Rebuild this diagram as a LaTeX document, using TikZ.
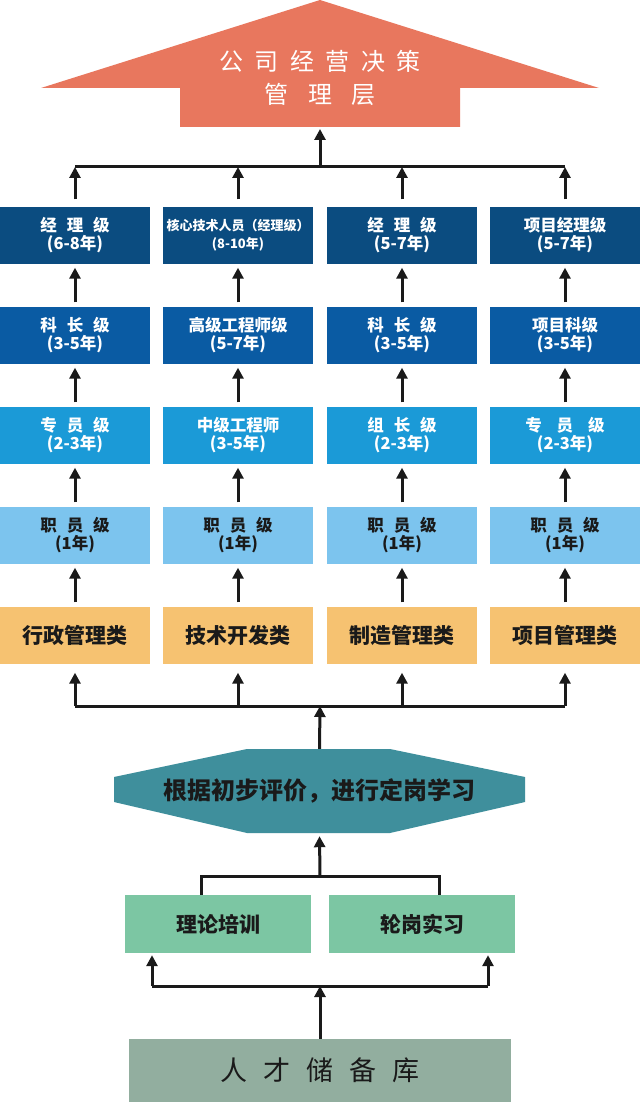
\documentclass[tikz,border=0pt]{standalone}
\usepackage{fontspec}
\setmainfont{Noto Sans CJK SC}
\usetikzlibrary{arrows.meta}
\definecolor{topc}{HTML}{E8775E}
\definecolor{rowA}{HTML}{0B4C80}
\definecolor{rowB}{HTML}{0A5BA3}
\definecolor{rowC}{HTML}{1B9AD7}
\definecolor{rowD}{HTML}{7CC4EE}
\definecolor{rowE}{HTML}{F6C271}
\definecolor{hexc}{HTML}{3F8F9C}
\definecolor{grn}{HTML}{7CC6A3}
\definecolor{gry}{HTML}{92AE9F}
\definecolor{ink}{HTML}{1A1A1A}
\newcommand\gp[1][0.6em]{\hspace{#1}}
\begin{document}
\begin{tikzpicture}[x=1pt,y=-1pt,
  box/.style={minimum width=150pt, minimum height=57pt, inner sep=0pt, align=center,
    font=\fontsize{16.5}{18}\selectfont\bfseries, text=white},
  arr/.style={line width=3pt, draw=ink, -{Triangle[length=11pt,width=11pt]}},
  ln/.style={line width=3pt, draw=ink}]
\useasboundingbox (0,0) rectangle (640,1102);
\fill[white] (0,0) rectangle (640,1102);
% top arrow
\fill[topc] (320,0) -- (599,88) -- (460,88) -- (460,127) -- (180,127) -- (180,88) -- (41,88) -- cycle;
\node[align=center, text=white, font=\fontsize{24}{33}\selectfont] (toptext) at (320,78)
  {公\gp[0.48em]司\gp[0.48em]经\gp[0.48em]营\gp[0.48em]决\gp[0.48em]策\\管\gp[0.8em]理\gp[0.8em]层};
\coordinate (topb) at (320,129);
% row 1
\node[box, fill=rowA] (r1c1) at (75,235) {经\gp 理\gp 级\\(6-8年)};
\node[box, fill=rowA, font=\fontsize{13}{18}\selectfont\bfseries] (r1c2) at (238,235) {核心技术人员（经理级）\\(8-10年)};
\node[box, fill=rowA] (r1c3) at (402,235) {经\gp 理\gp 级\\(5-7年)};
\node[box, fill=rowA] (r1c4) at (565,235) {项目经理级\\(5-7年)};
% row 2
\node[box, fill=rowB] (r2c1) at (75,335) {科\gp 长\gp 级\\(3-5年)};
\node[box, fill=rowB] (r2c2) at (238,335) {高级工程师级\\(5-7年)};
\node[box, fill=rowB] (r2c3) at (402,335) {科\gp 长\gp 级\\(3-5年)};
\node[box, fill=rowB] (r2c4) at (565,335) {项目科级\\(3-5年)};
% row 3
\node[box, fill=rowC] (r3c1) at (75,435) {专\gp 员\gp 级\\(2-3年)};
\node[box, fill=rowC] (r3c2) at (238,435) {中级工程师\\(3-5年)};
\node[box, fill=rowC] (r3c3) at (402,435) {组\gp 长\gp 级\\(2-3年)};
\node[box, fill=rowC] (r3c4) at (565,435) {专\gp[0.9em]员\gp[0.9em]级\\(2-3年)};
% row 4
\node[box, fill=rowD, text=ink] (r4c1) at (75,535) {职\gp 员\gp 级\\(1年)};
\node[box, fill=rowD, text=ink] (r4c2) at (238,535) {职\gp 员\gp 级\\(1年)};
\node[box, fill=rowD, text=ink] (r4c3) at (402,535) {职\gp 员\gp 级\\(1年)};
\node[box, fill=rowD, text=ink] (r4c4) at (565,535) {职\gp 员\gp 级\\(1年)};
% row 5
\tikzset{cat/.style={box, fill=rowE, text=ink, font=\fontsize{21}{24}\selectfont\bfseries}}
\node[cat] (r5c1) at (75,635) {行政管理类};
\node[cat] (r5c2) at (238,635) {技术开发类};
\node[cat] (r5c3) at (402,635) {制造管理类};
\node[cat] (r5c4) at (565,635) {项目管理类};
% row arrows
\foreach \c in {1,2,3,4}{
  \foreach \r in {5,4,3,2}{
    \pgfmathtruncatemacro\u{\r-1}
    \draw[arr] ([yshift=4pt]r\r c\c.north) -- ([yshift=-4pt]r\u c\c.south);
  }
}
% top bar
\coordinate (tb) at (320,167);
\draw[ln] (r1c1.north |- tb) -- (r1c4.north |- tb);
\foreach \c in {1,2,3,4}{
  \draw[arr] ([yshift=7pt]r1c\c.north) -- (r1c\c.north |- tb);
}
\draw[arr] (tb) -- (topb);
% hexagon
\fill[hexc] (247,749) -- (390,749) -- (525,777) -- (525,802) -- (390,833) -- (247,833) -- (114,802) -- (114,777) -- cycle;
\node[minimum width=411pt, minimum height=84pt, inner sep=0pt, text=ink,
  font=\fontsize{24}{28}\selectfont\bfseries] (hex) at (319.5,791) {根据初步评价，进行定岗学习};
% bottom bar of categories
\coordinate (bb) at (320,706);
\draw[ln] (r5c1.south |- bb) -- (r5c4.south |- bb);
\foreach \c in {1,2,3,4}{
  \draw[arr] (r5c\c.south |- bb) -- ([yshift=-9pt]r5c\c.south);
}
\draw[arr] (hex.north) -- (bb);
% green boxes
\tikzset{gbox/.style={fill=grn, minimum width=186pt, minimum height=58pt, inner sep=0pt,
  text=ink, font=\fontsize{21}{24}\selectfont\bfseries}}
\node[gbox] (gL) at (218,924) {理论培训};
\node[gbox] (gR) at (422,924) {轮岗实习};
\coordinate (mb) at (320,876);
\draw[arr] (mb) -- ([yshift=-3pt]hex.south);
\draw[ln] ([xshift=-17pt]gL.north) -- ([xshift=-17pt]gL.north |- mb) -- ([xshift=17pt]gR.north |- mb) -- ([xshift=17pt]gR.north);
% grey box
\node[fill=gry, minimum width=382pt, minimum height=63pt, inner sep=0pt, text=ink,
  font=\fontsize{27}{30}\selectfont] (pool) at (320,1070.5) {人\gp 才\gp 储\gp 备\gp 库};
\coordinate (lb) at (320,986);
\draw[ln] ([xshift=-66pt]gL.south |- lb) -- ([xshift=66pt]gR.south |- lb);
\draw[arr] ([xshift=-66pt]gL.south |- lb) -- ([xshift=-66pt,yshift=-2pt]gL.south);
\draw[arr] ([xshift=66pt]gR.south |- lb) -- ([xshift=66pt,yshift=-2pt]gR.south);
\draw[arr] (pool.north) -- (lb);
\end{tikzpicture}
\end{document}
